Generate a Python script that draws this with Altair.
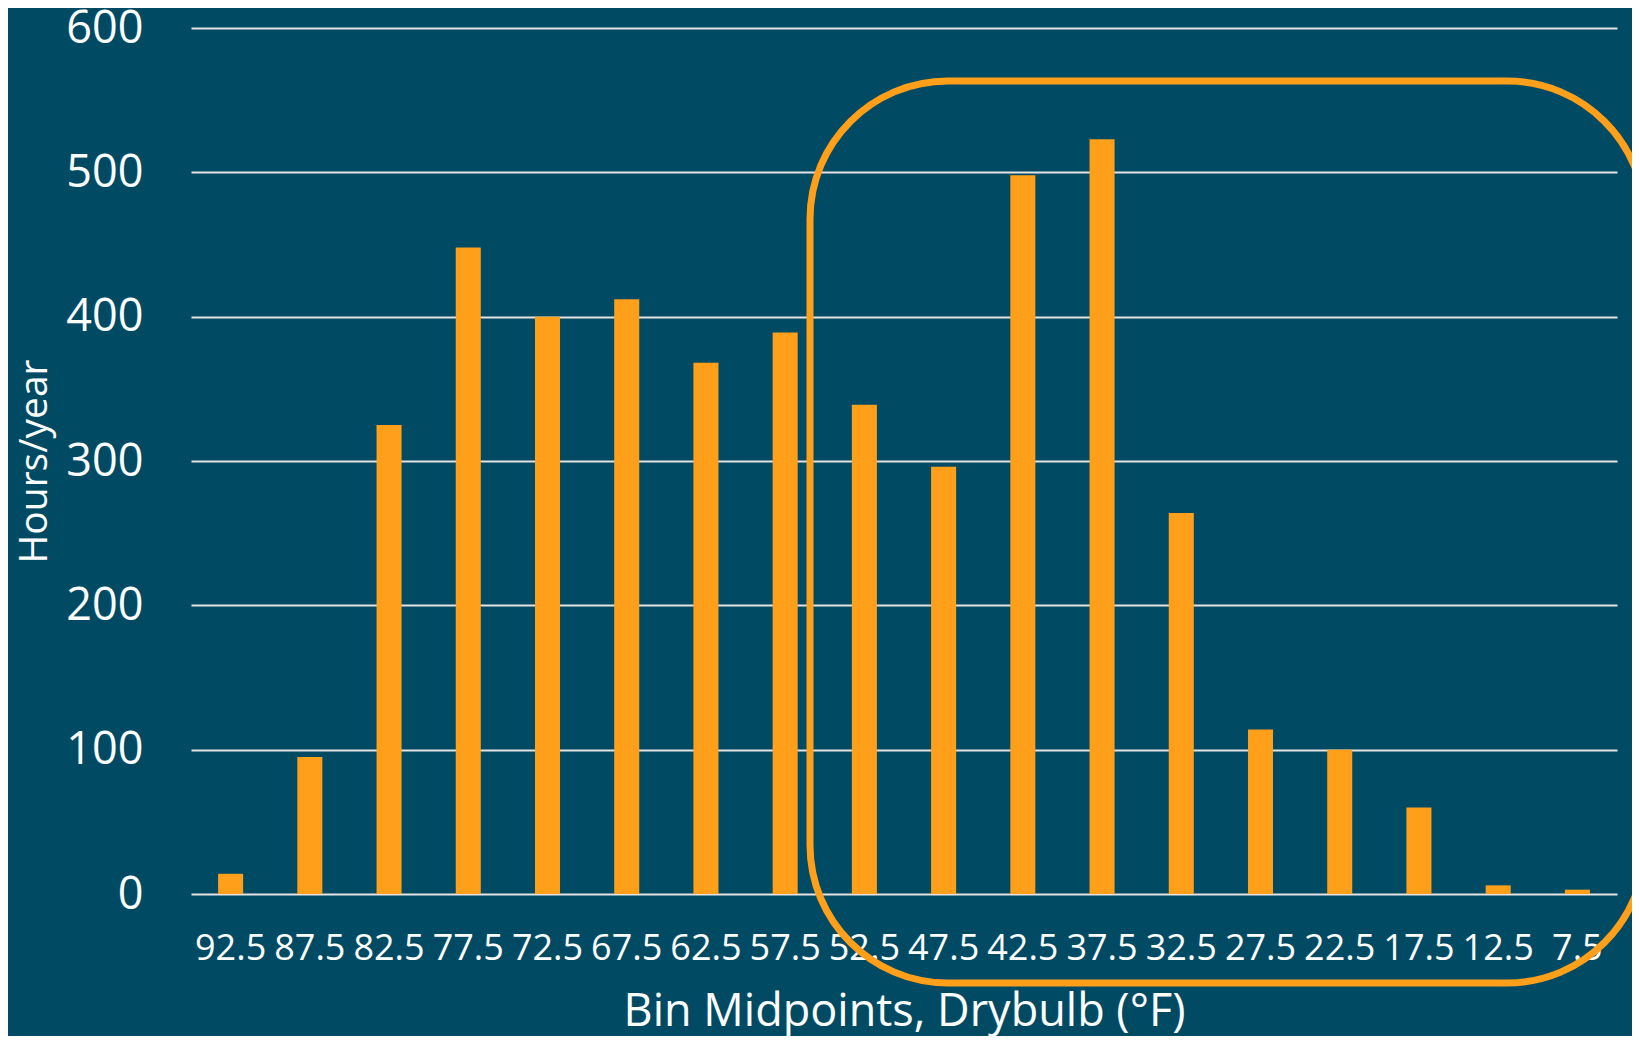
import altair as alt
import pandas as pd

# ---- data ----
bins = ["92.5", "87.5", "82.5", "77.5", "72.5", "67.5", "62.5", "57.5", "52.5",
        "47.5", "42.5", "37.5", "32.5", "27.5", "22.5", "17.5", "12.5", "7.5"]
hours = [14, 95, 325, 448, 400, 412, 368, 389, 339,
         296, 498, 523, 264, 114, 100, 60, 6, 3]
y_ticks = [0, 100, 200, 300, 400, 500, 600]

x_title = "Bin Midpoints, Drybulb (°F)"
y_title = "Hours/year"

BG = "#004B63"
ORANGE = "#FF9F1A"
GRID = "#E4E4E4"
FONT = "Open Sans"

df = pd.DataFrame({"bin": bins, "hours": hours})

bars = alt.Chart(df).mark_bar(color=ORANGE).encode(
    x=alt.X(
        "bin:N",
        sort=bins,
        scale=alt.Scale(paddingInner=0.684, paddingOuter=0.342),
        axis=alt.Axis(
            title=x_title,
            labelAngle=0,
            labelFont=FONT,
            labelFontSize=36,
            labelColor="white",
            labelPadding=37,
            labelOverlap=False,
            ticks=False,
            tickSize=0,
            domain=False,
            grid=False,
            titleFont=FONT,
            titleFontSize=45,
            titleFontWeight="normal",
            titleColor="white",
            titlePadding=23,
        ),
    ),
    y=alt.Y(
        "hours:Q",
        scale=alt.Scale(domain=[0, 600], nice=False),
        axis=alt.Axis(
            title=y_title,
            values=y_ticks,
            labelFont=FONT,
            labelFontSize=45,
            labelColor="white",
            labelPadding=48,
            ticks=False,
            tickSize=0,
            domain=False,
            grid=True,
            gridColor=GRID,
            gridWidth=2,
            titleFont=FONT,
            titleFontSize=39,
            titleFontWeight="normal",
            titleColor="white",
            titlePadding=11,
        ),
    ),
)

# highlight frame (annotation)
box = alt.Chart(pd.DataFrame({"k": [0]})).mark_rect(
    filled=False, stroke=ORANGE, strokeWidth=7, cornerRadius=138
).encode(
    x=alt.value(619), x2=alt.value(1454), y=alt.value(53), y2=alt.value(955)
)

chart = alt.layer(bars, box).properties(
    width=1426,
    height=866,
    autosize=alt.AutoSizeParams(type="none"),
    padding={"left": 183, "top": 20, "right": 15, "bottom": 142},
    background=BG,
).configure_view(strokeOpacity=0)

chart.save("out.html", embed_options={"renderer": "svg", "actions": False})
